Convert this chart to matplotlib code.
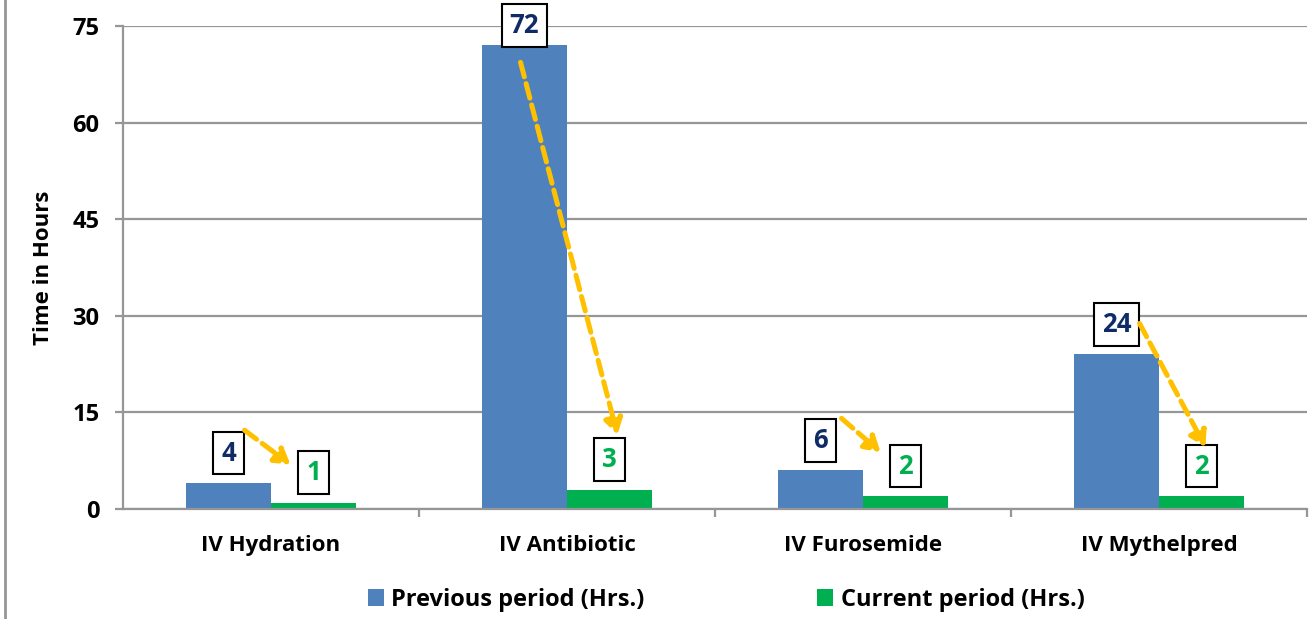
import numpy as np
import matplotlib.pyplot as plt
from matplotlib.lines import Line2D
from matplotlib.transforms import offset_copy

plt.rcParams['font.family'] = ['Open Sans', 'DejaVu Sans']
plt.rcParams['font.weight'] = 'bold'

categories = ['IV Hydration', 'IV Antibiotic', 'IV Furosemide', 'IV Mythelpred']
previous = [4, 72, 6, 24]
current = [1, 3, 2, 2]
series_names = ['Previous period (Hrs.)', 'Current period (Hrs.)']

blue = '#4F81BD'
green = '#00B050'
navy = '#0F2C66'
orange = '#FFC000'
grey = '#969696'

# label heights above the bar tops, pixels
prev_label_dy = [30, 20, 30, 30]
cur_label_dy = [30, 30, 30, 30]
# arrow start (from blue label) / end (at green label) offsets in pixels
arrow_start = [(16, 53), (-4, -17), (21, 52), (23, 31)]
arrow_end = [(-23, 38), (8, 55), (-25, 44), (4, 49)]

fig = plt.figure(figsize=(13.09, 6.19), dpi=100)
ax = fig.add_axes([123 / 1309, 1 - 509 / 619, (1307 - 123) / 1309, (509 - 26) / 619])

x = np.arange(len(categories))
w = 0.287
ax.bar(x - w / 2, previous, width=w, color=blue, label=series_names[0], zorder=2)
ax.bar(x + w / 2, current, width=w, color=green, label=series_names[1], zorder=2)

ax.set_xlim(-0.5, 3.5)
ax.set_ylim(0, 75)
ax.set_yticks(np.arange(0, 76, 15))
ax.yaxis.grid(True, color=grey, lw=1.6, zorder=0)
ax.set_axisbelow(True)

for s in ['top', 'right']:
    ax.spines[s].set_visible(False)
for s in ['left', 'bottom']:
    ax.spines[s].set_color(grey)
    ax.spines[s].set_linewidth(1.6)

ax.set_xticks(x)
ax.set_xticklabels(categories, fontsize=16, fontweight='bold')
ax.set_xticks(np.arange(0.5, 3.6, 1), minor=True)
ax.tick_params(axis='x', which='major', length=0, pad=19)
ax.tick_params(axis='x', which='minor', length=6, width=1.6, color=grey)
ax.tick_params(axis='y', length=6, width=1.6, color=grey, pad=11, labelsize=17)
for t in ax.get_yticklabels():
    t.set_fontweight('bold')
ax.set_ylabel('Time in Hours', fontsize=16, fontweight='bold', labelpad=13)

box = dict(boxstyle='square,pad=0.3', fc='white', ec='black', lw=1.5)
for i in range(len(categories)):
    xb, xg = x[i] - w / 2, x[i] + w / 2
    ax.annotate(str(previous[i]), (xb, previous[i]), xytext=(0, prev_label_dy[i] * 0.72),
                textcoords='offset points', ha='center', va='center',
                fontsize=18.5, fontweight='bold', color=navy, bbox=box, zorder=5)
    ax.annotate(str(current[i]), (xg, current[i]), xytext=(0, cur_label_dy[i] * 0.72),
                textcoords='offset points', ha='center', va='center',
                fontsize=18.5, fontweight='bold', color=green, bbox=box, zorder=5)
    sx, sy = arrow_start[i]
    ex, ey = arrow_end[i]
    t0 = offset_copy(ax.transData, fig=fig, x=sx, y=sy, units='dots')
    t1 = offset_copy(ax.transData, fig=fig, x=ex, y=ey, units='dots')
    ax.annotate('', xy=(xg, current[i]), xycoords=t1,
                xytext=(xb, previous[i]), textcoords=t0,
                arrowprops=dict(arrowstyle='-|>,head_length=0.9,head_width=0.55',
                                linestyle=(0, (3, 1.4)), lw=3.6, color=orange,
                                shrinkA=0, shrinkB=0),
                zorder=6)

fig.legend(loc='center', bbox_to_anchor=(0.5546, 1 - 600 / 619), ncol=2,
           frameon=False, prop={'size': 17, 'weight': 'bold'},
           handlelength=0.7, handleheight=0.7,
           handletextpad=0.3, columnspacing=7.3)

fig.add_artist(Line2D([5 / 1309, 5 / 1309], [0, 1], color=grey, lw=2,
                      transform=fig.transFigure))

fig.savefig('out.png', dpi=100)
